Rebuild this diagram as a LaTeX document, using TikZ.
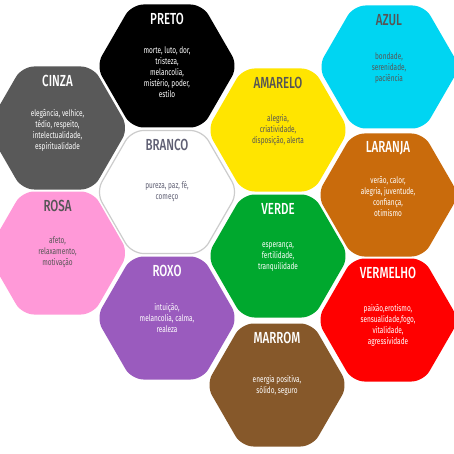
\documentclass[tikz,border=0pt]{standalone}
\usepackage{fontspec}
\setmainfont{Fira Sans}[FakeStretch=0.72]
\newfontfamily\ttlfont{Fira Sans Medium}[FakeStretch=0.72]
\definecolor{cinza}{HTML}{595959}
\definecolor{azul}{HTML}{00D5F2}
\definecolor{amarelo}{HTML}{FFE500}
\definecolor{laranja}{HTML}{C96B0C}
\definecolor{rosa}{HTML}{FF99D8}
\definecolor{verde}{HTML}{00A82E}
\definecolor{vermelho}{HTML}{FF0000}
\definecolor{roxo}{HTML}{9A5BBE}
\definecolor{marrom}{HTML}{86582A}
\definecolor{darktxt}{HTML}{555555}
\definecolor{brancotxt}{HTML}{5F5F73}
\tikzset{
  hexfill/.style={rounded corners=12pt},
  ttl/.style={font=\ttlfont\fontsize{16}{16}\selectfont, inner sep=0pt},
  desc/.style={font=\fontsize{9}{11}\selectfont, align=center, inner sep=0pt},
}
% #1 name, #2 x, #3 y, #4 fill style, #5 text colour, #6 title, #7 description, #8 desc offset
\newcommand{\hexcell}[8]{%
  \path[hexfill,#4] ({#2},{#3-61.5}) -- ({#2+35.5},{#3-61.5}) -- ({#2+71},{#3}) -- ({#2+35.5},{#3+61.5}) -- ({#2-35.5},{#3+61.5}) -- ({#2-71},{#3}) -- ({#2-35.5},{#3-61.5}) -- cycle;
  \node[ttl, text=#5] (#1t) at ({#2},{#3-47}) {#6};
  \node[desc, text=#5] (#1d) at ({#2},{#3+#8}) {#7};
}
\begin{document}
\begin{tikzpicture}[x=1pt,y=-1pt]
\useasboundingbox (0,0) rectangle (454,454);
\fill[white] (0,0) rectangle (454,454);
\hexcell{preto}{167}{66}{fill=black}{white}{PRETO}{morte, luto, dor,\\tristeza,\\melancolia,\\mistério, poder,\\estilo}{6}
\hexcell{azul}{389}{67}{fill=azul}{darktxt}{AZUL}{bondade,\\serenidade,\\paciência}{1}
\hexcell{cinza}{57.5}{128}{fill=cinza}{white}{CINZA}{elegância, velhice,\\tédio, respeito,\\intelectualidade,\\espiritualidade}{2}
\hexcell{amarelo}{278}{130}{fill=amarelo}{darktxt}{AMARELO}{alegria,\\criatividade,\\disposição, alerta}{0}
\hexcell{branco}{167}{192}{fill=white,draw=black!20,line width=1.2pt}{brancotxt}{BRANCO}{pureza, paz, fé,\\começo}{-1}
\hexcell{laranja}{388}{195}{fill=laranja}{white}{LARANJA}{verão, calor,\\alegria, juventude,\\confiança,\\otimismo}{2}
\hexcell{rosa}{57.5}{253}{fill=rosa}{darktxt}{ROSA}{afeto,\\relaxamento,\\motivação}{-1}
\hexcell{verde}{278}{256}{fill=verde}{white}{VERDE}{esperança,\\fertilidade,\\tranquilidade}{1}
\hexcell{roxo}{167}{318}{fill=roxo}{white}{ROXO}{intuição,\\melancolia, calma,\\realeza}{0}
\hexcell{vermelho}{388}{320}{fill=vermelho}{white}{VERMELHO}{paixão,erotismo,\\sensualidade,fogo,\\vitalidade,\\agressividade}{5}
\hexcell{marrom}{277}{385}{fill=marrom}{white}{MARROM}{energia positiva,\\sólido, seguro}{0}
\end{tikzpicture}
\end{document}
